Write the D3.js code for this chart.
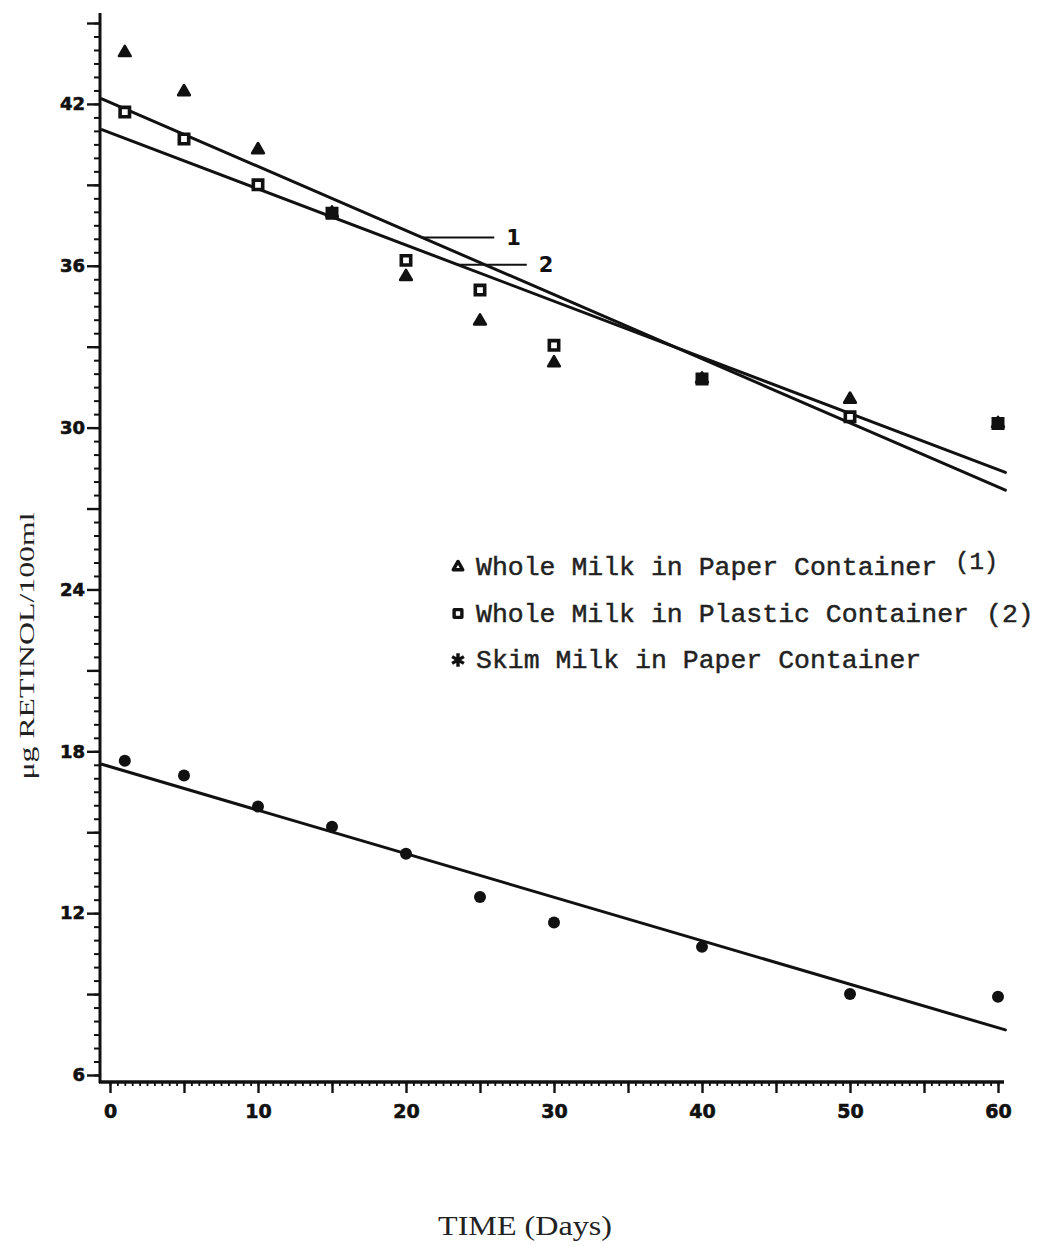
<!DOCTYPE html>
<html><head><meta charset="utf-8">
<script src="https://cdn.jsdelivr.net/npm/d3@7"></script>
<style>
html,body{margin:0;padding:0;background:#fff;}
svg{display:block;}
</style></head><body>
<script>
// Retinol content of milk during refrigerated storage
const days = [1, 5, 10, 15, 20, 25, 30, 40, 50, 60];
const wholePaper   = [43.9, 42.45, 40.3, 37.95, 35.6, 33.95, 32.4, 31.8, 31.05, 30.15];
const wholePlastic = [41.7, 40.7, 39.0, 37.95, 36.2, 35.1, 33.05, 31.8, 30.4, 30.15];
const skimPaper    = [17.65, 17.1, 15.95, 15.2, 14.2, 12.6, 11.65, 10.75, 9.0, 8.9];

// regression lines (intercept, slope per day) and the day range they span
const fitIntercepts = [42.06, 40.93, 17.43];
const fitSlopes = [-0.2377, -0.2081, -0.1613];
const fitRange = [-0.55, 60.5];
const lineLabels = ["1", "2"];
const lineLabelDays = [21.1, 23.5];

const legendLabels = ["Whole Milk in Paper Container", "Whole Milk in Plastic Container", "Skim Milk in Paper Container"];
const legendNotes = ["(1)", "(2)", ""];

const yTickLabels = [6, 12, 18, 24, 30, 36, 42];
const xTickLabels = [0, 10, 20, 30, 40, 50, 60];
const yTitle = "\u03BCg RETINOL/100ml";
const xTitle = "TIME (Days)";

const W = 1038, H = 1246;
const svg = d3.select("body").append("svg").attr("width", W).attr("height", H);

const x = d3.scaleLinear().domain([0, 60]).range([110, 998]);
const y = d3.scaleLinear().domain([6, 45]).range([1075, 23]);
const axisX = 100, axisY = 1082;
const ink = "#111";

// ---- y axis: half-unit ticks, longer ticks every 3, labels every 6
function styleAxis(g, w) {
  g.select(".domain").remove();
  g.selectAll(".tick line").attr("stroke", ink).attr("stroke-width", w);
}
const tickFont = g => g.selectAll("text").attr("fill", ink).attr("stroke", ink).attr("stroke-width", 0.6)
  .style("font-family", "'DejaVu Sans', sans-serif").style("font-weight", "bold");

svg.append("g").attr("transform", `translate(${axisX},0)`)
  .call(d3.axisLeft(y).tickValues(d3.range(6, 45.01, 0.5)).tickSize(6).tickFormat(""))
  .call(g => styleAxis(g, 2));
svg.append("g").attr("transform", `translate(${axisX},0)`)
  .call(d3.axisLeft(y).tickValues(d3.range(6, 45.01, 3)).tickSize(13).tickPadding(2)
    .tickFormat(d => yTickLabels.includes(d) ? d : ""))
  .call(g => styleAxis(g, 2.4))
  .call(tickFont)
  .call(g => g.selectAll("text").style("font-size", "18px"));

// ---- x axis: half-day ticks, longer ticks every 5, labels every 10
svg.append("g").attr("transform", `translate(0,${axisY})`)
  .call(d3.axisBottom(x).tickValues(d3.range(0, 60.01, 0.5)).tickSize(4).tickFormat(""))
  .call(g => styleAxis(g, 1.8));
svg.append("g").attr("transform", `translate(0,${axisY})`)
  .call(d3.axisBottom(x).tickValues(d3.range(0, 60.01, 5)).tickSize(11).tickPadding(12)
    .tickFormat(d => xTickLabels.includes(d) ? d : ""))
  .call(g => styleAxis(g, 2.4))
  .call(tickFont)
  .call(g => g.selectAll("text").style("font-size", "19px"));

// axis lines
svg.append("line").attr("x1", axisX).attr("x2", axisX).attr("y1", 13).attr("y2", axisY + 1)
  .attr("stroke", ink).attr("stroke-width", 3);
svg.append("line").attr("x1", axisX - 1).attr("x2", 1004).attr("y1", axisY).attr("y2", axisY)
  .attr("stroke", ink).attr("stroke-width", 3.5);

// ---- regression lines
const fitLine = d3.line().x(d => x(d[0])).y(d => y(d[1]));
fitIntercepts.forEach((b, i) => {
  const pts = fitRange.map(d => [d, b + fitSlopes[i] * d]);
  svg.append("path").attr("d", fitLine(pts)).attr("fill", "none")
    .attr("stroke", ink).attr("stroke-width", 3).attr("stroke-linecap", "round");
});

// numbered pointers to the two whole-milk lines
const pointerLen = [72, 69];
lineLabels.forEach((lab, i) => {
  const d = lineLabelDays[i];
  const px = x(d), py = y(fitIntercepts[i] + fitSlopes[i] * d);
  svg.append("line").attr("x1", px).attr("x2", px + pointerLen[i]).attr("y1", py).attr("y2", py)
    .attr("stroke", ink).attr("stroke-width", 2);
  svg.append("text").attr("x", px + pointerLen[i] + 12).attr("y", py).attr("dy", "0.36em")
    .attr("fill", ink).style("font-family", "'DejaVu Sans', sans-serif")
    .style("font-weight", "bold").style("font-size", "21px").text(lab);
});

// ---- data markers
const tri = d3.symbol(d3.symbolTriangle, 60);
const sq = d3.symbol(d3.symbolSquare, 88);

svg.append("g").selectAll("path").data(days.map((d, i) => [d, wholePlastic[i]])).join("path")
  .attr("transform", d => `translate(${x(d[0])},${y(d[1])})`)
  .attr("d", sq).attr("fill", "#fff").attr("stroke", ink).attr("stroke-width", 3.6);

svg.append("g").selectAll("path").data(days.map((d, i) => [d, wholePaper[i]])).join("path")
  .attr("transform", d => `translate(${x(d[0])},${y(d[1])})`)
  .attr("d", tri).attr("fill", ink).attr("stroke", ink).attr("stroke-width", 2.5)
  .attr("stroke-linejoin", "round");

svg.append("g").selectAll("circle").data(days.map((d, i) => [d, skimPaper[i]])).join("circle")
  .attr("cx", d => x(d[0])).attr("cy", d => y(d[1])).attr("r", 6).attr("fill", ink);

// ---- legend
const legendX = 458, legendTextX = 476, legendY0 = 575, legendStep = 46.5;
const legendSymbols = [
  d3.symbol(d3.symbolTriangle, 40)(),
  d3.symbol(d3.symbolSquare, 60)(),
  d3.symbol(d3.symbolAsterisk, 130)()
];
const legendFont = "'Liberation Mono', 'Courier New', monospace";
const noteX = [955, 986];
legendLabels.forEach((lab, i) => {
  const by = legendY0 + i * legendStep;
  const my = by - 8;
  const mark = svg.append("path").attr("transform", `translate(${legendX},${my})`).attr("d", legendSymbols[i]);
  if (i === 2) mark.attr("fill", "none").attr("stroke", ink).attr("stroke-width", 3.4);
  else mark.attr("fill", "#fff").attr("stroke", ink).attr("stroke-width", 3.4).attr("stroke-linejoin", "round");
  svg.append("text").attr("x", legendTextX).attr("y", by).attr("fill", "#222")
    .attr("stroke", "#222").attr("stroke-width", 0.45)
    .style("font-family", legendFont).style("font-size", "26.5px").text(lab);
  if (legendNotes[i]) {
    // the first note sits slightly raised and smaller
    svg.append("text").attr("x", noteX[i]).attr("y", i === 0 ? by - 6 : by).attr("fill", "#222")
      .attr("stroke", "#222").attr("stroke-width", 0.45)
      .style("font-family", legendFont).style("font-size", i === 0 ? "24px" : "26.5px").text(legendNotes[i]);
  }
});

// ---- axis titles
svg.append("text").attr("transform", "translate(34,646) rotate(-90)").attr("text-anchor", "middle")
  .attr("fill", "#222").style("font-family", "'Liberation Serif', 'DejaVu Serif', serif").style("font-size", "21px")
  .attr("textLength", 267).attr("lengthAdjust", "spacingAndGlyphs").text(yTitle);
svg.append("text").attr("x", 525).attr("y", 1235).attr("text-anchor", "middle")
  .attr("fill", "#222").style("font-family", "'Liberation Serif', 'DejaVu Serif', serif").style("font-size", "27px")
  .attr("textLength", 174).attr("lengthAdjust", "spacingAndGlyphs").text(xTitle);
</script>
</body></html>
